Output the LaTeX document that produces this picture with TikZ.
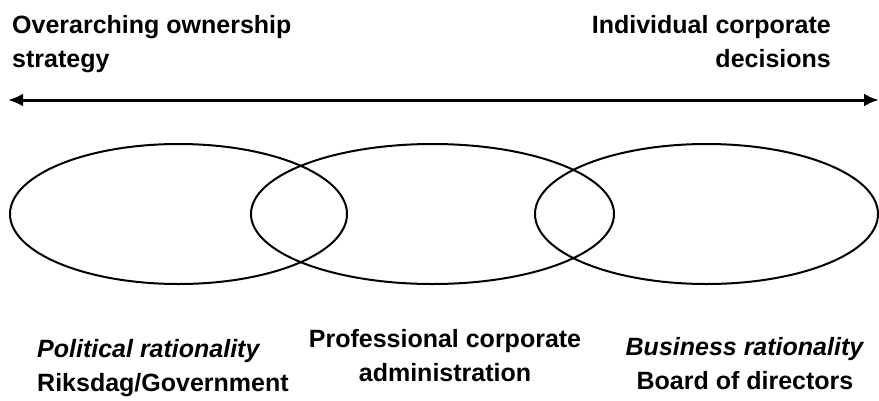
\documentclass[tikz,border=0pt]{standalone}
\usepackage{fontspec}
\setmainfont{Liberation Sans}
\usepackage{tikz}
\usetikzlibrary{arrows.meta,shapes.geometric}
\tikzset{>={Latex[length=15pt,width=13pt]}}

\begin{document}
\begin{tikzpicture}[x=1pt,y=-1pt,
	lbl/.style={inner sep=0pt,font=\fontsize{25}{34}\selectfont\bfseries},
	area/.style={draw,ellipse,line width=2pt,inner sep=0pt,minimum height=140pt}]
	\useasboundingbox (0,0) rectangle (879,400);
	% scale of the decisions
	\coordinate (left) at (8,100);
	\coordinate (right) at (879,100);
	\draw[<->,line width=3pt] (left) -- (right);
	\node[lbl,anchor=north west,align=left] (strategy) at (12,15) {Overarching ownership\\strategy};
	\node[lbl,anchor=north east,align=right] (decisions) at (831,15) {Individual corporate\\decisions};
	% the three rationalities
	\node[area,minimum width=337pt] (political) at (178.5,214) {};
	\node[area,minimum width=363pt] (professional) at (432.5,214) {};
	\node[area,minimum width=343pt] (business) at (706.5,214) {};
	\node[lbl,anchor=north west,align=left] (riksdag) at (37,339) {\textit{Political rationality}\\Riksdag/Government};
	\node[lbl,anchor=north,align=center] (admin) at (445,329) {Professional corporate\\administration};
	\node[lbl,anchor=north,align=center] (board) at (745,337) {\textit{Business rationality}\\Board of directors};
\end{tikzpicture}
\end{document}
